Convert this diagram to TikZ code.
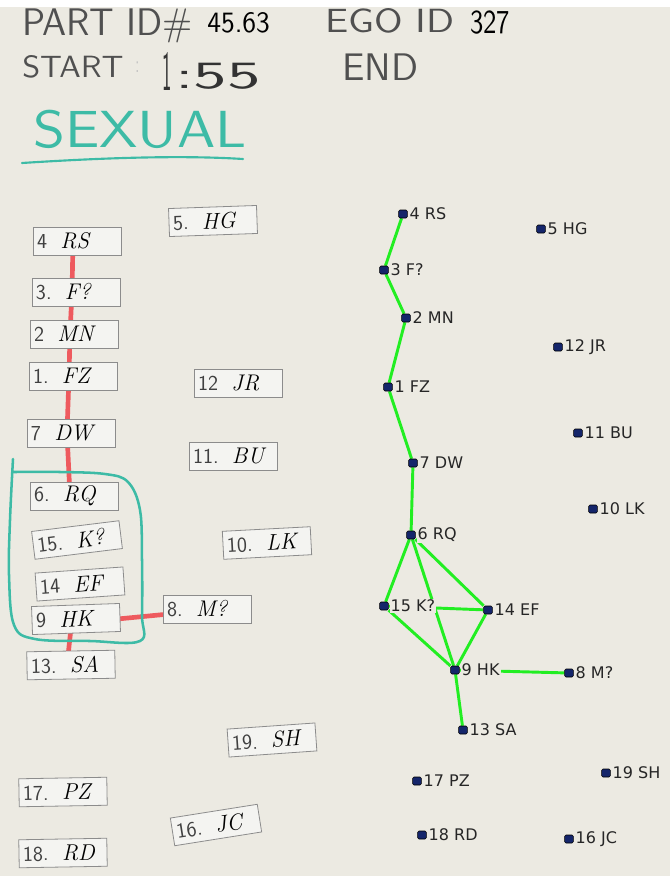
\documentclass[tikz,border=0pt]{standalone}
\usepackage{fontspec}
\newfontfamily\glfont{DejaVu Sans}
\usetikzlibrary{backgrounds}
\definecolor{bgc}{HTML}{ECEAE2}
\definecolor{cardc}{HTML}{F4F4F1}
\definecolor{cardedge}{HTML}{8C8C8C}
\definecolor{redc}{HTML}{EE5A5E}
\definecolor{tealc}{HTML}{3DBBA6}
\definecolor{greenc}{HTML}{22EE22}
\definecolor{navyc}{HTML}{14256A}
\definecolor{markc}{HTML}{505050}
\tikzset{
  card/.style={draw=cardedge, line width=0.6pt, fill=cardc, minimum width=66pt,
    minimum height=21pt, inner xsep=3pt, inner ysep=0pt, text width=60pt, align=left},
  redline/.style={draw=redc, line width=3.5pt},
  gline/.style={draw=greenc, line width=2.2pt},
  gnode/.style={rectangle, rounded corners=1pt, fill=navyc, draw=black, line width=0.4pt,
    minimum width=6.5pt, minimum height=6pt, inner sep=0pt},
  glabel/.style={font=\glfont\fontsize{12}{12}\selectfont, text=black!85, fill=bgc,
    inner sep=0.8pt, label distance=0.6pt},
  hand/.style={anchor=base west, inner sep=0pt, font=\sffamily},
  tealline/.style={draw=tealc, line width=1.9pt, line cap=round},
}
\newcommand\mkcard[5]{\node[card, rotate=#3] (#1) at (#2)
  {{\sffamily\fontsize{16}{16}\selectfont\color{black!75}#4}\hspace{10pt}{\itshape\fontsize{17}{17}\selectfont #5}};}
\newcommand\gn[3]{\node[gnode, label={[glabel]right:#3}] (#1) at (#2) {};}
\begin{document}
\begin{tikzpicture}[x=0.75pt,y=-0.75pt]
\useasboundingbox (0,0) rectangle (670,876);
\begin{scope}[on background layer]
  \fill[bgc] (0,0) rectangle (670,876);
  \fill[white] (0,0) rectangle (670,7);
\end{scope}

% header handwriting
\node[hand, text=markc] (hpart) at (22,35) {\resizebox{128pt}{20pt}{PART ID\#}};
\node[hand, text=black] (hpid) at (207,32) {\resizebox{47pt}{15pt}{45.63}};
\node[hand, text=markc] (hego) at (325,32) {\resizebox{97pt}{18pt}{EGO ID}};
\node[hand, text=black] (heid) at (470,33) {\resizebox{30pt}{17pt}{327}};
\node[hand, text=markc] (hstart) at (22,77) {\resizebox{76pt}{16.5pt}{START}};
\node[hand, text=black!25] (hcolon) at (135,72) {\resizebox{3pt}{8pt}{:}};
\node[hand, text=black!80] (hone) at (162,90) {\resizebox{7pt}{28.5pt}{1}};
\node[hand, text=black!80] (htime) at (175,88) {\resizebox{64pt}{19pt}{:55}};
\node[hand, text=markc] (hend) at (342,80) {\resizebox{57pt}{20pt}{END}};
\node[hand, text=tealc] (hsex) at (33,147) {\resizebox{160pt}{28pt}{SEXUAL}};
\draw[tealline, line width=1.6pt] (hsex.base west) ++(-11,16) coordinate (ul1)
  (ul1) .. controls (100,158) and (180,155) .. (243,159);

% cards
\mkcard{cRS}{77,241}{0}{4}{RS}
\mkcard{cF}{76,292}{0}{3.}{F?}
\mkcard{cMN}{74,334}{0}{2}{MN}
\mkcard{cFZ}{73,376}{0}{1.}{FZ}
\mkcard{cDW}{71,433}{0}{7}{DW}
\mkcard{cRQ}{74,496}{0}{6.}{RQ}
\mkcard{cK}{77,540}{7}{15.}{K?}
\mkcard{cEF}{80,584}{4}{14}{EF}
\mkcard{cHK}{76,619}{2}{9}{HK}
\mkcard{cSA}{71,665}{1}{13.}{SA}
\mkcard{cM}{207,609}{0}{8.}{M?}
\mkcard{cHG}{213,221}{2}{5.}{HG}
\mkcard{cJR}{238,383}{0}{12}{JR}
\mkcard{cBU}{233,456}{0}{11.}{BU}
\mkcard{cLK}{267,543}{3}{10.}{LK}
\mkcard{cSH}{272,740}{4}{19.}{SH}
\mkcard{cPZ}{63,792}{1}{17.}{PZ}
\mkcard{cRD}{63,853}{1}{18.}{RD}
\mkcard{cJC}{216,825}{9}{16.}{JC}

\begin{scope}[on background layer]
  \foreach \a/\b in {cRS/cF, cF/cMN, cMN/cFZ, cFZ/cDW, cDW/cRQ, cHK/cSA}
    \draw[redline] ([xshift=-3pt]\a.center) -- ([xshift=-3pt]\b.center);
  \draw[redline] ([yshift=-3pt]cHK.center) -- ([yshift=-1pt]cM.center);
  \draw[tealline] plot[smooth, tension=0.6] coordinates {(13,459) (10,520) (9,575) (14,625)
    (35,639) (90,641) (140,641) (142,615) (142,560) (140,510) (128,482) (105,474) (60,472) (14,472)};
\end{scope}

% graph
\gn{n4}{403,214}{4 RS}
\gn{n3}{384,270}{3 F?}
\gn{n2}{406,318}{2 MN}
\gn{n1}{388,387}{1 FZ}
\gn{n7}{413,463}{7 DW}
\gn{n6}{411,535}{6 RQ}
\gn{n15}{384,606}{15 K?}
\gn{n14}{488,610}{14 EF}
\gn{n9}{455,670}{9 HK}
\gn{n8}{569,673}{8 M?}
\gn{n13}{463,730}{13 SA}
\gn{n17}{417,781}{17 PZ}
\gn{n18}{422,835}{18 RD}
\gn{n16}{569,839}{16 JC}
\gn{n19}{606,773}{19 SH}
\gn{n5}{541,229}{5 HG}
\gn{n12}{558,347}{12 JR}
\gn{n11}{578,433}{11 BU}
\gn{n10}{593,509}{10 LK}

\begin{scope}[on background layer]
  \foreach \a/\b in {n4/n3, n3/n2, n2/n1, n1/n7, n7/n6, n6/n15, n6/n14, n6/n9,
      n15/n14, n15/n9, n14/n9, n9/n8, n9/n13}
    \draw[gline] (\a) -- (\b);
\end{scope}
\end{tikzpicture}
\end{document}
